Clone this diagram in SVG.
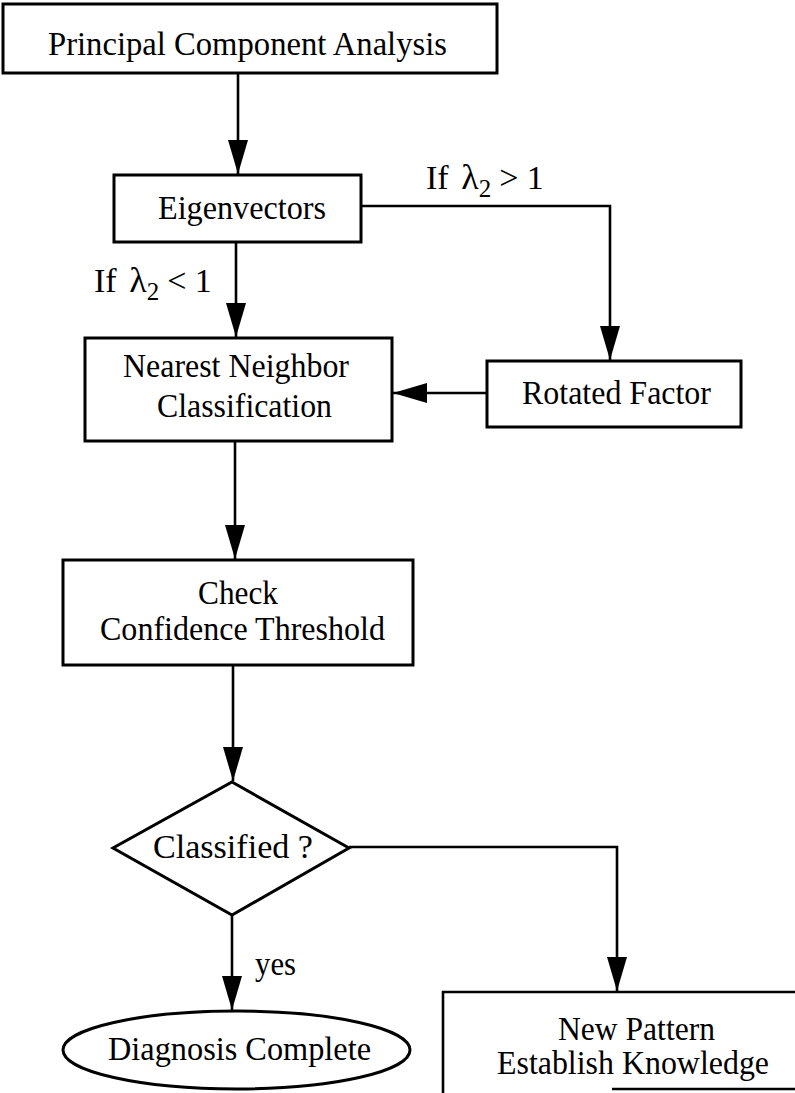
<svg xmlns="http://www.w3.org/2000/svg" width="795" height="1093" viewBox="0 0 795 1093">
<defs>
<marker id="ah" markerUnits="userSpaceOnUse" markerWidth="36" markerHeight="20" refX="34" refY="10" orient="auto">
<path d="M0,0 L34,10 L0,20 Z" fill="#000"/>
</marker>
<style>
.n{fill:#fff;stroke:#000;stroke-width:3}
.c{fill:none;stroke:#000;stroke-width:2.6}
text{font-family:"Liberation Serif","Times New Roman",serif;fill:#000;font-size:34px}
.m{text-anchor:middle}
</style>
</defs>
<rect width="795" height="1093" fill="#fff"/>
<g id="connectors">
<path class="c" d="M238,73 V174" marker-end="url(#ah)"/>
<path class="c" d="M361,206 H610 V360" marker-end="url(#ah)"/>
<path class="c" d="M236,242 V337" marker-end="url(#ah)"/>
<path class="c" d="M487,393 H393" marker-end="url(#ah)"/>
<path class="c" d="M235,441 V559" marker-end="url(#ah)"/>
<path class="c" d="M233,665 V781" marker-end="url(#ah)"/>
<path class="c" d="M349,847 H617 V991" marker-end="url(#ah)"/>
<path class="c" d="M232,915 V1010" marker-end="url(#ah)"/>
<text x="426" y="189" font-size="32">If <tspan dx="4" font-size="36">λ</tspan><tspan font-size="25" dy="8">2</tspan><tspan dx="8" dy="-8">&gt; 1</tspan></text>
<text x="94" y="292" font-size="32">If <tspan dx="4" font-size="36">λ</tspan><tspan font-size="25" dy="8">2</tspan><tspan dx="8" dy="-8">&lt; 1</tspan></text>
<text x="255" y="975" textLength="41" lengthAdjust="spacingAndGlyphs">yes</text>
</g>
<g id="pca">
<rect class="n" x="3" y="4" width="494" height="69"/>
<text x="48" y="55" font-size="36" textLength="399" lengthAdjust="spacingAndGlyphs">Principal Component Analysis</text>
</g>
<g id="eigenvectors">
<rect class="n" x="114" y="175" width="247" height="67"/>
<text x="158" y="219" textLength="168" lengthAdjust="spacingAndGlyphs">Eigenvectors</text>
</g>
<g id="nearest-neighbor">
<rect class="n" x="85" y="338" width="307" height="103"/>
<text x="123" y="377" textLength="226" lengthAdjust="spacingAndGlyphs">Nearest Neighbor</text>
<text x="157" y="417" textLength="175" lengthAdjust="spacingAndGlyphs">Classification</text>
</g>
<g id="rotated-factor">
<rect class="n" x="487" y="361" width="254" height="66"/>
<text x="522" y="404" textLength="189" lengthAdjust="spacingAndGlyphs">Rotated Factor</text>
</g>
<g id="check">
<rect class="n" x="63" y="560" width="350" height="105"/>
<text x="198" y="604" textLength="80" lengthAdjust="spacingAndGlyphs">Check</text>
<text x="100" y="640" textLength="285" lengthAdjust="spacingAndGlyphs">Confidence Threshold</text>
</g>
<g id="classified">
<polygon class="n" points="232,782 349,848 232,915 113,848"/>
<text x="153" y="858" textLength="160" lengthAdjust="spacingAndGlyphs">Classified ?</text>
</g>
<g id="diagnosis-complete">
<ellipse class="n" cx="236.5" cy="1050" rx="173.5" ry="39"/>
<text x="108" y="1060" textLength="263" lengthAdjust="spacingAndGlyphs">Diagnosis Complete</text>
</g>
<g id="new-pattern">
<path class="c" d="M443,1093 V992 H795" stroke-width="3"/>
<path class="c" d="M612,1089 H795" stroke-width="3"/>
<text x="558" y="1040" textLength="157" lengthAdjust="spacingAndGlyphs">New Pattern</text>
<text x="497" y="1074" textLength="272" lengthAdjust="spacingAndGlyphs">Establish Knowledge</text>
</g>
</svg>
